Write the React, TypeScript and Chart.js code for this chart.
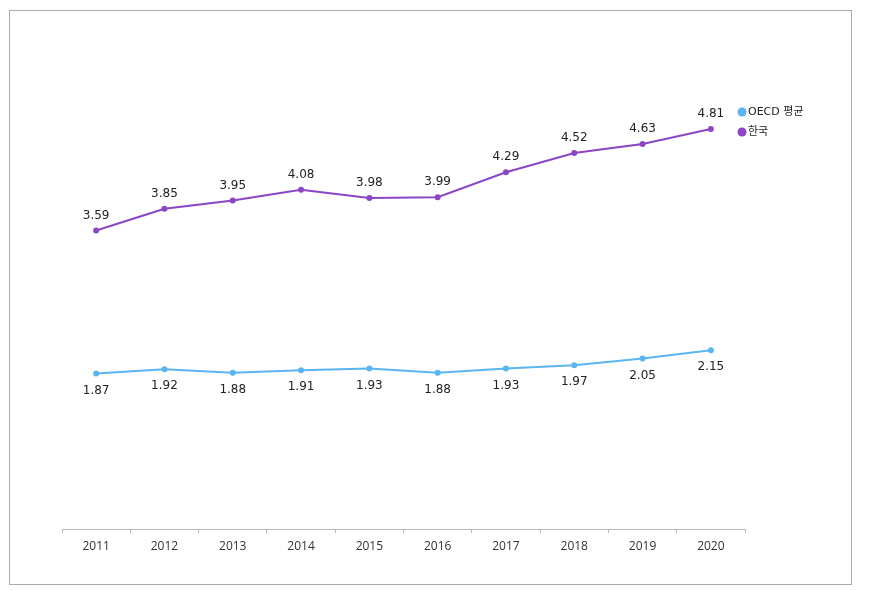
import React, { useEffect, useRef } from "react";
import { Chart, registerables } from "chart.js";

Chart.register(...registerables);

const categories = ["2011", "2012", "2013", "2014", "2015", "2016", "2017", "2018", "2019", "2020"];
const oecdValues = [1.87, 1.92, 1.88, 1.91, 1.93, 1.88, 1.93, 1.97, 2.05, 2.15];
const koreaValues = [3.59, 3.85, 3.95, 4.08, 3.98, 3.99, 4.29, 4.52, 4.63, 4.81];
const seriesNames = ["OECD 평균", "한국"];
const seriesColors = ["#5AB6F0", "#8B45C6"];

const labelPlugin = {
  id: "valueLabels",
  afterDatasetsDraw(chart: any) {
    const ctx = chart.ctx;
    ctx.save();
    ctx.font = "12px 'DejaVu Sans'";
    ctx.fillStyle = "#222";
    ctx.textAlign = "center";
    ctx.textBaseline = "middle";
    chart.data.datasets.forEach((ds: any, i: number) => {
      const meta = chart.getDatasetMeta(i);
      meta.data.forEach((pt: any, j: number) => {
        const v = ds.data[j] as number;
        const dy = i === 1 ? -15 : 17;
        ctx.fillText(v.toFixed(2), pt.x, pt.y + dy);
      });
    });
    ctx.restore();
  },
};

const legendPlugin = {
  id: "customLegend",
  afterDraw(chart: any) {
    const ctx = chart.ctx;
    ctx.save();
    const x0 = chart.chartArea.right - 8;
    const y0 = 101;
    chart.data.datasets.forEach((ds: any, i: number) => {
      const y = y0 + i * 20;
      ctx.beginPath();
      ctx.fillStyle = ds.borderColor;
      ctx.arc(x0 + 5, y, 4.5, 0, Math.PI * 2);
      ctx.fill();
      ctx.fillStyle = "#222";
      ctx.font = "11px 'DejaVu Sans', 'Noto Sans CJK KR'";
      ctx.textAlign = "left";
      ctx.textBaseline = "middle";
      ctx.fillText(ds.label, x0 + 11, y);
    });
    ctx.restore();
  },
};

export default function App() {
  const ref = useRef<HTMLCanvasElement | null>(null);
  useEffect(() => {
    if (!ref.current) return;
    const chart = new Chart(ref.current, {
      type: "line",
      data: {
        labels: categories,
        datasets: [
          {
            label: seriesNames[0],
            data: oecdValues,
            borderColor: seriesColors[0],
            backgroundColor: seriesColors[0],
            borderWidth: 2,
            pointRadius: 3,
            pointBackgroundColor: seriesColors[0],
            pointBorderWidth: 0,
            tension: 0,
          },
          {
            label: seriesNames[1],
            data: koreaValues,
            borderColor: seriesColors[1],
            backgroundColor: seriesColors[1],
            borderWidth: 2,
            pointRadius: 3,
            pointBackgroundColor: seriesColors[1],
            pointBorderWidth: 0,
            tension: 0,
          },
        ],
      },
      options: {
        animation: false,
        responsive: false,
        devicePixelRatio: 1,
        layout: { padding: { left: 52, right: 106, top: 19, bottom: 15 } },
        plugins: { legend: { display: false }, tooltip: { enabled: false } },
        scales: {
          x: {
            offset: true,
            grid: {
              display: true,
              drawOnChartArea: false,
              drawTicks: true,
              tickLength: 4,
              offset: true,
              color: "#b8b8b8",
            },
            border: { display: true, color: "#b8b8b8", width: 1 },
            ticks: {
              color: "#333",
              font: { family: "'Open Sans'", size: 12 },
              padding: 6,
              maxRotation: 0,
            },
            afterFit: (scale: any) => {
              scale.height = 40;
            },
          },
          y: {
            display: false,
            min: 0,
            max: 6,
          },
        },
      },
      plugins: [labelPlugin, legendPlugin],
    });
    return () => chart.destroy();
  }, []);

  return (
    <div style={{ position: "relative", width: 854, height: 577 }}>
      <div
        style={{
          position: "absolute",
          left: 1,
          top: 2,
          width: 841,
          height: 573,
          border: "1px solid #ababab",
          background: "#fff",
        }}
      >
        <canvas ref={ref} width={841} height={573} style={{ display: "block", width: 841, height: 573 }} />
      </div>
    </div>
  );
}
